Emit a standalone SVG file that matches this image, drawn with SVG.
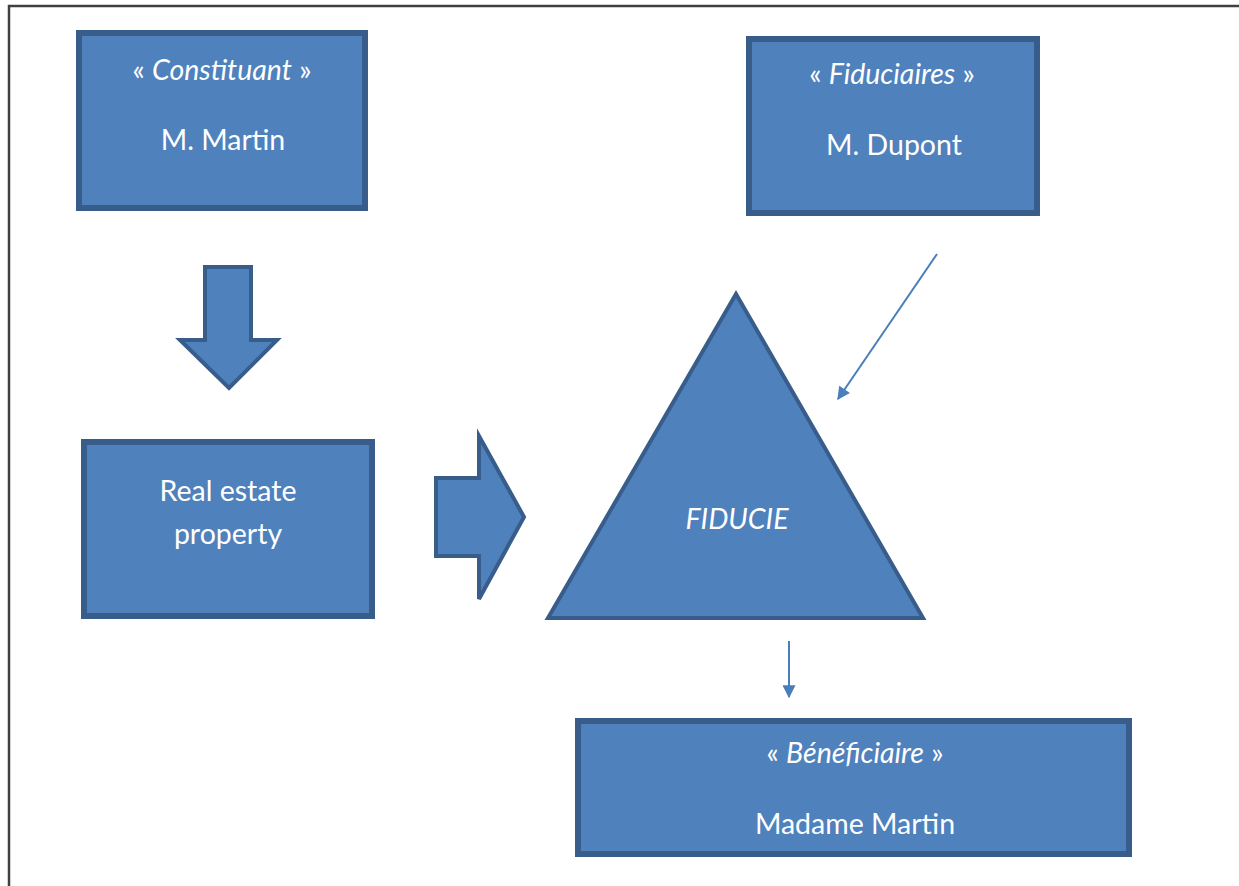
<svg xmlns="http://www.w3.org/2000/svg" width="1239" height="886" viewBox="0 0 1239 886">
<defs>
<style>
.box{fill:#4F81BD;stroke:#385D8A;stroke-width:6}
.shape{fill:#4F81BD;stroke:#385D8A;stroke-width:4;stroke-linejoin:miter}
.t{font-family:Lato,"Open Sans","Liberation Sans",sans-serif;font-size:28.5px;fill:#ffffff;text-anchor:middle}
.i{font-style:italic}
.conn{stroke:#4A7EBB;stroke-width:2;fill:none}
</style>
<marker id="ah" viewBox="0 0 10 10" refX="9" refY="5" markerWidth="7.5" markerHeight="6.5" orient="auto" markerUnits="strokeWidth">
<path d="M0,0 L10,5 L0,10 z" fill="#4A7EBB"/>
</marker>
</defs>
<rect width="1239" height="886" fill="#ffffff"/>
<path d="M9,886 L9,6 L1239,6" fill="none" stroke="#404040" stroke-width="2.5"/>
<g id="constituant">
<rect class="box" x="79" y="33" width="286" height="175"/>
<text class="t" x="222" y="80">« <tspan class="i">Constituant</tspan> »</text>
<text class="t" x="223" y="150">M. Martin</text>
</g>
<g id="fiduciaires">
<rect class="box" x="749" y="39" width="288" height="174"/>
<text class="t" x="892" y="84">« <tspan class="i">Fiduciaires</tspan> »</text>
<text class="t" x="894" y="155">M. Dupont</text>
</g>
<g id="real-estate">
<rect class="box" x="84" y="442" width="288" height="174"/>
<text class="t" x="228" y="501">Real estate</text>
<text class="t" x="228" y="544">property</text>
</g>
<g id="fiducie">
<polygon class="shape" points="736,294 923,618 548,618"/>
<text class="t i" x="737" y="529">FIDUCIE</text>
</g>
<g id="beneficiaire">
<rect class="box" x="578" y="721" width="551" height="133"/>
<text class="t" x="855" y="763">« <tspan class="i">Bénéficiaire</tspan> »</text>
<text class="t" x="855" y="834">Madame Martin</text>
</g>
<g id="connectors">
<polygon class="shape" points="205,267 251,267 251,340 277,340 229,388 180,340 205,340"/>
<polygon class="shape" points="436,478 479,478 479,436 524,517 479,599 479,556 436,556"/>
<line class="conn" x1="937" y1="254" x2="838" y2="399" marker-end="url(#ah)"/>
<line class="conn" x1="789" y1="641" x2="789" y2="697" marker-end="url(#ah)"/>
</g>
</svg>
